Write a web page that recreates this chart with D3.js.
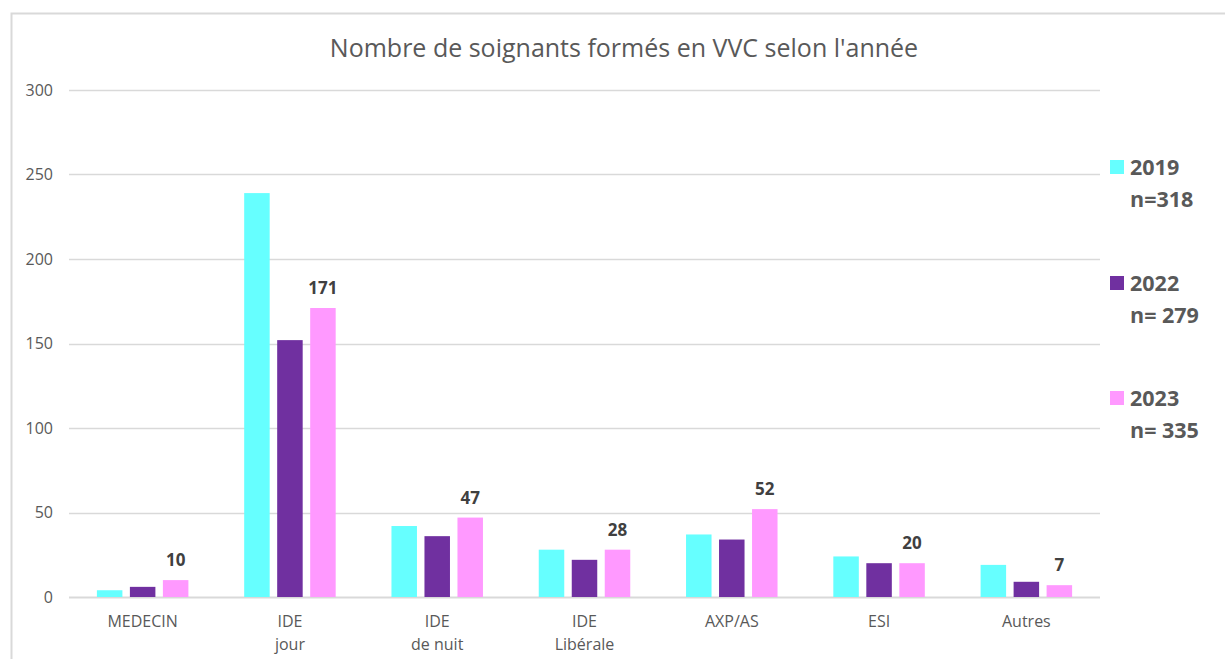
<!DOCTYPE html>
<html>
<head>
<meta charset="utf-8">
<script src="https://cdn.jsdelivr.net/npm/d3@7"></script>
<style>
  body { margin: 0; background: #fff; }
  svg { display: block; font-family: "Open Sans", "Noto Sans", sans-serif; }
</style>
</head>
<body>
<div id="chart"></div>
<script>
// values
const categories = [["MEDECIN"], ["IDE", "jour"], ["IDE", "de nuit"], ["IDE", "Libérale"], ["AXP/AS"], ["ESI"], ["Autres"]];
const years = ["2019", "2022", "2023"];
const yearCounts = ["n=318", "n= 279", "n= 335"];
const values2019 = [4, 239, 42, 28, 37, 24, 19];
const values2022 = [6, 152, 36, 22, 34, 20, 9];
const values2023 = [10, 171, 47, 28, 52, 20, 7];
const yTicks = [0, 50, 100, 150, 200, 250, 300];
const colors = ["#66FFFF", "#7030A0", "#FF99FF"];

const series = [values2019, values2022, values2023];
const title = "Nombre de soignants formés en VVC selon l'année";

const W = 1225, H = 659;
const margin = { top: 90, left: 69, bottom: 62, right: 125 };
const width = W - margin.left - margin.right;
const height = H - margin.top - margin.bottom;

const svg = d3.select("#chart").append("svg")
  .attr("width", W)
  .attr("height", H);

// chart frame (only top and left edges visible in the crop)
svg.append("path")
  .attr("d", `M11.5,${H} V13.5 H${W}`)
  .attr("fill", "none")
  .attr("stroke", "#d9d9d9")
  .attr("stroke-width", 2);

svg.append("text")
  .attr("x", 624)
  .attr("y", 57)
  .attr("text-anchor", "middle")
  .attr("fill", "#595959")
  .style("font-size", "25px")
  .text(title);

const g = svg.append("g").attr("transform", `translate(${margin.left},${margin.top})`);

const x = d3.scaleBand()
  .domain(d3.range(categories.length))
  .range([0, width])
  .padding(0);

const y = d3.scaleLinear()
  .domain([0, 300])
  .range([height, 0]);

const barW = 25.5, barStep = 33;

// gridlines
g.append("g")
  .selectAll("line")
  .data(yTicks)
  .join("line")
  .attr("x1", 0)
  .attr("x2", width)
  .attr("y1", d => Math.round(y(d)) + 0.5)
  .attr("y2", d => Math.round(y(d)) + 0.5)
  .attr("stroke", "#d9d9d9")
  .attr("stroke-width", d => d === 0 ? 2 : 1.5);

// y axis labels
const yAxis = g.append("g")
  .call(d3.axisLeft(y).tickValues(yTicks).tickSize(0).tickPadding(16));
yAxis.select(".domain").remove();
yAxis.selectAll("text")
  .attr("fill", "#595959")
  .style("font-size", "16px")
  .style("font-family", "'Open Sans', sans-serif");

// bars
series.forEach((vals, s) => {
  g.append("g")
    .selectAll("rect")
    .data(vals)
    .join("rect")
    .attr("x", (d, i) => x(i) + x.bandwidth() / 2 - barW / 2 + (s - 1) * barStep)
    .attr("y", d => y(d))
    .attr("width", barW)
    .attr("height", d => y(0) - y(d))
    .attr("fill", colors[s]);
});

// data labels on the 2023 series
g.append("g")
  .selectAll("text")
  .data(values2023)
  .join("text")
  .attr("x", (d, i) => x(i) + x.bandwidth() / 2 + barStep)
  .attr("y", d => y(d) - 14)
  .attr("text-anchor", "middle")
  .attr("fill", "#404040")
  .style("font-size", "17px")
  .style("font-weight", "bold")
  .text(d => d);

// category labels
const xl = g.append("g")
  .selectAll("text")
  .data(categories)
  .join("text")
  .attr("x", (d, i) => x(i) + x.bandwidth() / 2)
  .attr("y", height + 30)
  .attr("text-anchor", "middle")
  .attr("fill", "#595959")
  .style("font-size", "16px");
xl.selectAll("tspan")
  .data(d => d)
  .join("tspan")
  .attr("x", function() { return this.parentNode.getAttribute("x"); })
  .attr("dy", (d, i) => i === 0 ? 0 : 23)
  .text(d => d);

// legend
const legendY = [167, 283, 398];
const legend = svg.append("g");
years.forEach((yr, i) => {
  legend.append("rect")
    .attr("x", 1110)
    .attr("y", legendY[i] - 7)
    .attr("width", 14)
    .attr("height", 14)
    .attr("fill", colors[i]);
  legend.append("text")
    .attr("x", 1130)
    .attr("y", legendY[i] + 8)
    .attr("fill", "#595959")
    .style("font-size", "21.5px")
    .style("font-weight", "bold")
    .text(yr);
  legend.append("text")
    .attr("x", 1130)
    .attr("y", legendY[i] + 40)
    .attr("fill", "#595959")
    .style("font-size", "21.5px")
    .style("font-weight", "bold")
    .text(yearCounts[i]);
});
</script>
</body>
</html>
